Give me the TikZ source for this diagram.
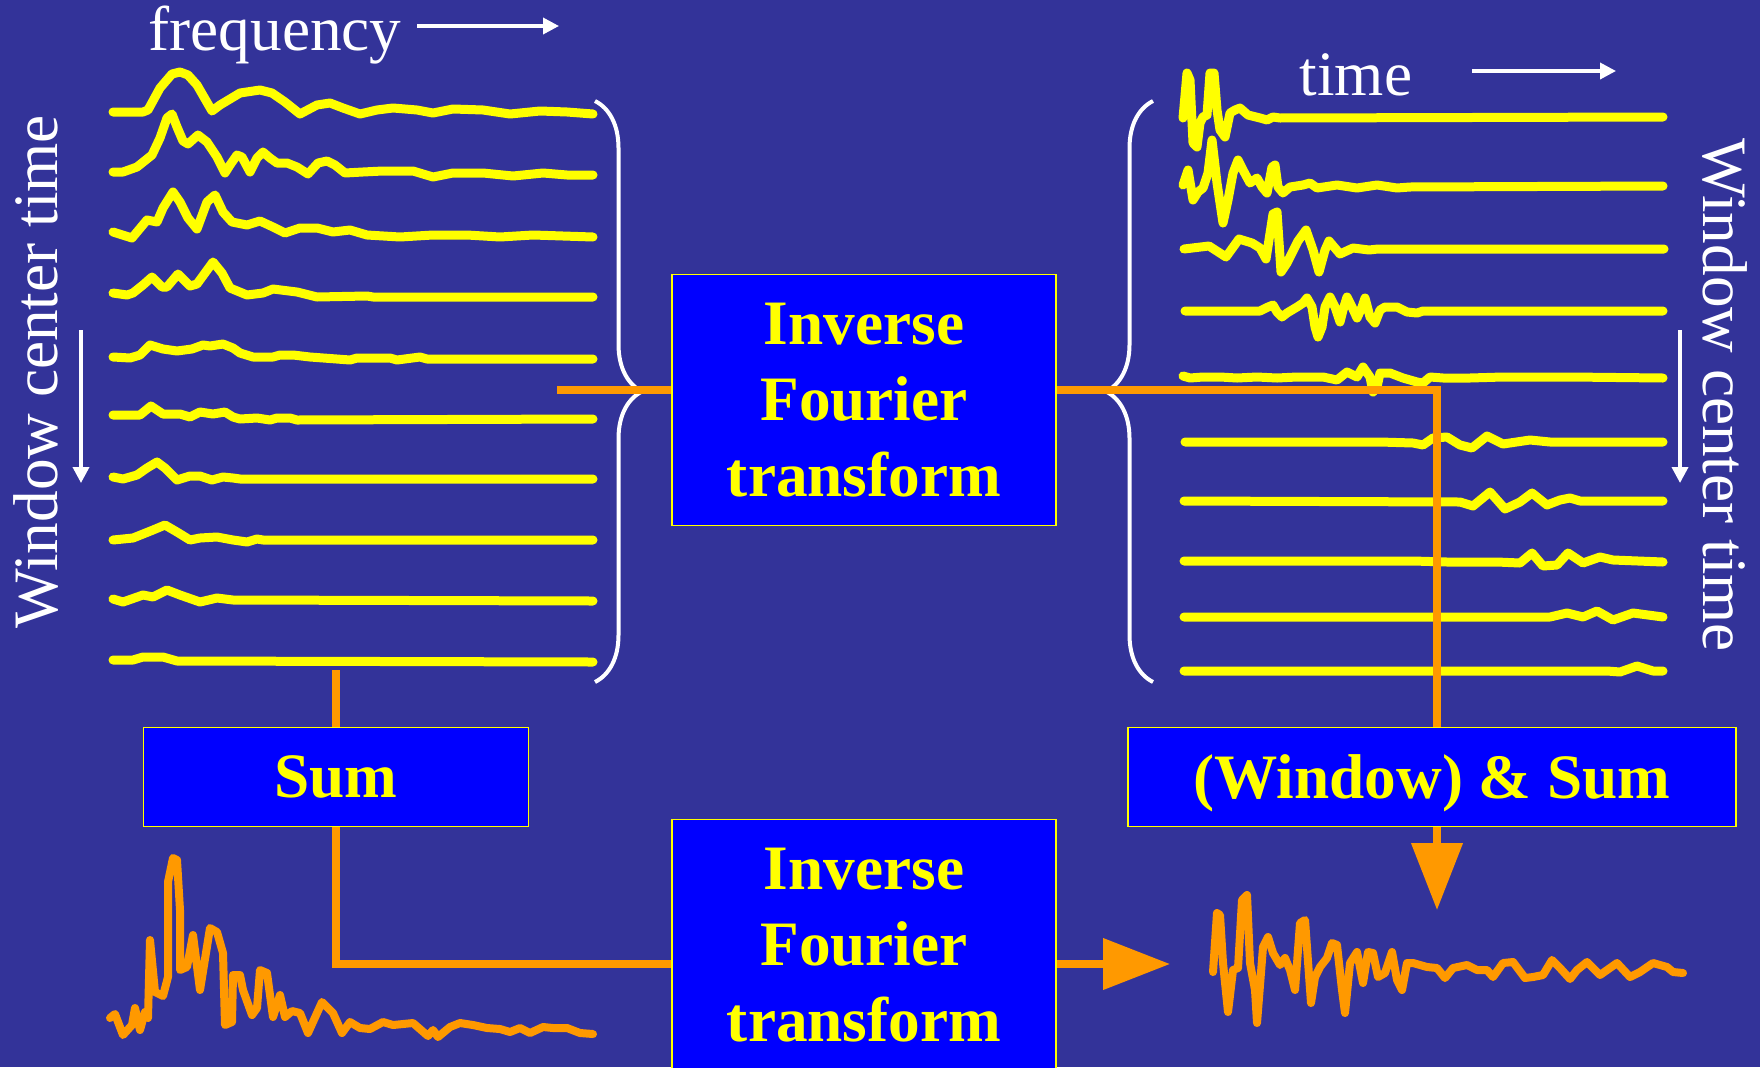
\documentclass[tikz,border=0pt]{standalone}
\usepackage{fontspec}
\setmainfont{Liberation Serif}
\usetikzlibrary{arrows.meta}
\usetikzlibrary{decorations.pathreplacing}

\definecolor{slide}{RGB}{51,51,153}
\definecolor{boxblue}{RGB}{0,0,255}
\definecolor{sigyellow}{RGB}{255,255,0}
\definecolor{sigorange}{RGB}{255,153,0}

\tikzset{
  sigline/.style={draw=sigyellow, line width=0.9mm, line join=round, line cap=round},
  sumline/.style={draw=sigorange, line width=0.8mm, line join=round, line cap=round},
  conn/.style={draw=sigorange, line width=0.75mm},
  bigtip/.style={conn, -{Triangle[length=6.7mm,width=5mm]}},
  block/.style={draw=sigyellow, line width=0.15mm, fill=boxblue, text=sigyellow,
    font=\bfseries\fontsize{18}{21.6}\selectfont, align=center, inner sep=0pt},
  axislabel/.style={text=white, font=\fontsize{18}{21.6}\selectfont, inner sep=0pt},
  axisarrow/.style={draw=white, line width=0.36mm, -{Triangle[length=1.6mm,width=1.6mm]}},
  curly/.style={draw=white, line width=0.4mm, decorate, decoration={brace, amplitude=4.7mm}}
}

\begin{document}
\begin{tikzpicture}[x=0.1mm,y=-0.1mm]
  \useasboundingbox (0,0) rectangle (1760,1067);
  \clip (0,0) rectangle (1760,1067);
  \fill[slide] (0,0) rectangle (1760,1067);

  % axis labels and arrows
  \node[axislabel, anchor=base] (freq) at (275,50) {frequency};
  \node[axislabel, anchor=base] (time) at (1356,95) {time};
  \node[axislabel, anchor=base, rotate=90] (wctleft) at (57,372) {Window center time};
  \node[axislabel, anchor=base, rotate=-90] (wctright) at (1703,395) {Window center time};
  \coordinate (fa) at (417,26);  \coordinate (fb) at (559,26);
  \coordinate (ta) at (1472,71); \coordinate (tb) at (1616,71);
  \coordinate (la) at (81,330);  \coordinate (lb) at (81,483);
  \coordinate (ra) at (1680,330); \coordinate (rb) at (1680,483);
  \draw[axisarrow] (fa) -- (fb);
  \draw[axisarrow] (ta) -- (tb);
  \draw[axisarrow] (la) -- (lb);
  \draw[axisarrow] (ra) -- (rb);

  % spectra of the windows
  \draw[sigline] (113,112) -- (143,112) -- (148,110) -- (160,88) -- (172,74) -- (180,72) -- (188,75) -- (197,85) -- (212,111) -- (220,105) -- (240,93) -- (260,90) -- (272,93) -- (285,102) -- (300,114) -- (317,105) -- (330,103) -- (343,108) -- (360,114) -- (377,110) -- (393,108) -- (417,110) -- (433,113) -- (453,109) -- (483,110) -- (510,114) -- (540,111) -- (567,112) -- (593,114);
  \draw[sigline] (113,172) -- (123,172) -- (137,167) -- (152,155) -- (160,138) -- (167,118) -- (172,114) -- (177,127) -- (183,141) -- (188,144) -- (198,135) -- (207,142) -- (217,157) -- (225,173) -- (230,165) -- (237,155) -- (242,157) -- (250,172) -- (257,158) -- (263,152) -- (270,158) -- (277,163) -- (287,163) -- (297,167) -- (308,174) -- (318,163) -- (327,161) -- (335,165) -- (345,173) -- (363,172) -- (383,171) -- (413,171) -- (433,177) -- (453,173) -- (483,173) -- (513,176) -- (543,173) -- (567,175) -- (593,175);
  \draw[sigline] (113,232) -- (132,238) -- (147,220) -- (157,222) -- (163,208) -- (173,192) -- (180,202) -- (188,218) -- (197,229) -- (207,202) -- (215,195) -- (223,212) -- (232,222) -- (247,225) -- (260,221) -- (273,227) -- (285,233) -- (300,228) -- (317,228) -- (333,232) -- (350,230) -- (367,235) -- (400,237) -- (433,235) -- (467,235) -- (500,237) -- (533,235) -- (593,237);
  \draw[sigline] (113,293) -- (127,295) -- (133,293) -- (143,285) -- (152,277) -- (162,287) -- (167,287) -- (178,274) -- (190,286) -- (197,284) -- (213,262) -- (222,273) -- (230,288) -- (247,295) -- (263,293) -- (273,289) -- (297,292) -- (317,297) -- (367,296) -- (373,297) -- (593,297);
  \draw[sigline] (113,357) -- (130,358) -- (140,355) -- (150,345) -- (163,349) -- (177,351) -- (192,349) -- (203,345) -- (210,346) -- (223,344) -- (233,348) -- (240,353) -- (253,357) -- (273,357) -- (280,355) -- (293,355) -- (310,357) -- (350,360) -- (357,358) -- (390,358) -- (397,360) -- (420,357) -- (427,359) -- (593,359);
  \draw[sigline] (113,415) -- (140,415) -- (151,406) -- (163,414) -- (180,414) -- (190,417) -- (200,412) -- (213,414) -- (225,412) -- (233,417) -- (240,419) -- (257,418) -- (270,420) -- (277,418) -- (290,418) -- (297,420) -- (593,419);
  \draw[sigline] (113,477) -- (123,479) -- (137,475) -- (147,468) -- (157,462) -- (165,468) -- (177,480) -- (190,476) -- (200,476) -- (212,480) -- (223,477) -- (233,478) -- (240,479) -- (593,479);
  \draw[sigline] (113,540) -- (133,538) -- (153,530) -- (165,525) -- (177,532) -- (190,540) -- (200,538) -- (217,537) -- (233,540) -- (247,542) -- (257,539) -- (263,540) -- (593,540);
  \draw[sigline] (113,599) -- (123,602) -- (143,595) -- (153,597) -- (167,590) -- (180,595) -- (200,602) -- (217,598) -- (233,600) -- (593,601);
  \draw[sigline] (113,660) -- (133,660) -- (143,657) -- (163,657) -- (177,661) -- (593,662);

  % windowed time signals
  \draw[sigline] (1183,118) -- (1187,73) -- (1190,80) -- (1193,143) -- (1197,147) -- (1200,123) -- (1203,117) -- (1207,115) -- (1210,73) -- (1214,73) -- (1217,110) -- (1220,130) -- (1225,137) -- (1230,113) -- (1235,110) -- (1240,108) -- (1248,115) -- (1260,118) -- (1267,120) -- (1273,117) -- (1280,118) -- (1663,117);
  \draw[sigline] (1183,185) -- (1188,170) -- (1193,200) -- (1198,192) -- (1203,188) -- (1208,173) -- (1212,140) -- (1217,183) -- (1223,223) -- (1228,200) -- (1233,173) -- (1238,160) -- (1243,170) -- (1250,183) -- (1257,178) -- (1262,187) -- (1267,193) -- (1272,167) -- (1275,165) -- (1278,187) -- (1283,193) -- (1290,187) -- (1303,185) -- (1310,183) -- (1317,188) -- (1337,185) -- (1357,188) -- (1377,185) -- (1397,188) -- (1410,187) -- (1663,186);
  \draw[sigline] (1184,249) -- (1209,246) -- (1226,257) -- (1239,239) -- (1252,243) -- (1260,248) -- (1266,259) -- (1273,214) -- (1277,212) -- (1281,272) -- (1287,263) -- (1298,241) -- (1306,230) -- (1313,250) -- (1319,272) -- (1325,250) -- (1329,241) -- (1340,254) -- (1353,248) -- (1369,250) -- (1378,249) -- (1664,249);
  \draw[sigline] (1185,311) -- (1260,311) -- (1268,307) -- (1273,305) -- (1277,312) -- (1282,317) -- (1287,313) -- (1297,307) -- (1303,303) -- (1307,298) -- (1312,307) -- (1315,327) -- (1318,337) -- (1322,327) -- (1325,307) -- (1330,297) -- (1335,307) -- (1340,322) -- (1343,310) -- (1347,297) -- (1352,307) -- (1357,318) -- (1362,307) -- (1365,298) -- (1370,317) -- (1375,323) -- (1380,310) -- (1385,307) -- (1397,307) -- (1407,312) -- (1417,313) -- (1423,311) -- (1663,311);
  \draw[sigline] (1183,376) -- (1190,378) -- (1203,377) -- (1220,377) -- (1237,378) -- (1257,377) -- (1277,378) -- (1297,377) -- (1310,377) -- (1323,377) -- (1337,380) -- (1347,372) -- (1357,377) -- (1363,367) -- (1370,377) -- (1373,392) -- (1377,387) -- (1380,373) -- (1390,373) -- (1403,378) -- (1417,382) -- (1423,383) -- (1430,377) -- (1443,378) -- (1470,378) -- (1503,377) -- (1537,377) -- (1570,377) -- (1663,378);
  \draw[sigline] (1185,442) -- (1363,442) -- (1380,442) -- (1413,443) -- (1423,445) -- (1433,438) -- (1447,437) -- (1460,445) -- (1472,448) -- (1487,436) -- (1503,444) -- (1530,440) -- (1550,442) -- (1663,442);
  \draw[sigline] (1184,501) -- (1460,502) -- (1473,506) -- (1490,492) -- (1505,509) -- (1520,502) -- (1532,493) -- (1547,505) -- (1560,500) -- (1570,498) -- (1580,501) -- (1663,501);
  \draw[sigline] (1184,561) -- (1413,561) -- (1447,562) -- (1497,562) -- (1520,563) -- (1532,553) -- (1543,566) -- (1557,565) -- (1568,553) -- (1583,563) -- (1600,557) -- (1613,560) -- (1663,562);
  \draw[sigline] (1184,617) -- (1550,617) -- (1567,613) -- (1583,617) -- (1597,611) -- (1613,620) -- (1633,613) -- (1663,617);
  \draw[sigline] (1184,671) -- (1607,671) -- (1620,672) -- (1637,666) -- (1653,671) -- (1663,671);

  % braces
  \draw[curly] (595,101) -- (595,682);
  \draw[curly] (1153,682) -- (1153,101);

  % boxes
  \node[block, minimum width=38.4mm, minimum height=25.1mm] (ift1) at (864,400) {Inverse\\Fourier\\transform};
  \node[block, minimum width=38.4mm, minimum height=25.1mm] (ift2) at (864,945) {Inverse\\Fourier\\transform};
  \node[block, minimum width=38.5mm, minimum height=9.9mm] (sum) at (336,777) {Sum};
  \node[block, minimum width=60.8mm, minimum height=9.9mm, text depth=0pt] (winsum) at (1432,777) {(Window) \& Sum};

  % connectors
  \coordinate (lstart) at (557,390);
  \coordinate (tap) at (1437,390);
  \coordinate (lbot) at (336,670);
  \coordinate (outl) at (1170,964);
  \coordinate (outr) at (1437,910);
  \draw[conn] (lstart) -- (lstart -| ift1.west);
  \draw[conn] (ift1.east |- lstart) -- (tap) -- (tap |- winsum.north);
  \draw[conn] (lbot) -- (sum.north);
  \draw[conn] (sum.south) |- (ift2.west |- outl);
  \draw[bigtip] (ift2.east |- outl) -- (outl);
  \draw[bigtip] (outr |- winsum.south) -- (outr);

  % summed spectrum and resulting signal
  \draw[sumline] (110,1018) -- (115,1014) -- (123,1035) -- (132,1025) -- (135,1008) -- (140,1030) -- (145,1012) -- (148,1018) -- (150,940) -- (155,992) -- (163,996) -- (168,977) -- (168,882) -- (173,858) -- (177,860) -- (180,910) -- (180,970) -- (187,967) -- (193,935) -- (200,990) -- (210,928) -- (217,932) -- (223,953) -- (225,1025) -- (232,1022) -- (233,975) -- (240,975) -- (243,990) -- (252,1015) -- (257,1008) -- (260,970) -- (267,973) -- (273,1017) -- (280,995) -- (285,1017) -- (292,1011) -- (300,1013) -- (308,1033) -- (322,1002) -- (333,1013) -- (342,1033) -- (350,1022) -- (360,1028) -- (370,1029) -- (383,1022) -- (393,1025) -- (413,1023) -- (428,1036) -- (433,1030) -- (438,1037) -- (450,1027) -- (460,1023) -- (473,1025) -- (487,1028) -- (500,1029) -- (510,1032) -- (520,1028) -- (530,1033) -- (543,1027) -- (553,1028) -- (567,1028) -- (580,1033) -- (593,1034);
  \draw[sumline] (1213,972) -- (1217,913) -- (1220,915) -- (1223,963) -- (1228,1012) -- (1233,970) -- (1238,968) -- (1242,900) -- (1247,895) -- (1250,963) -- (1255,990) -- (1257,1023) -- (1263,947) -- (1268,937) -- (1273,953) -- (1280,965) -- (1285,958) -- (1290,970) -- (1295,990) -- (1300,923) -- (1305,920) -- (1311,1003) -- (1315,977) -- (1320,967) -- (1327,958) -- (1332,943) -- (1337,945) -- (1342,990) -- (1345,1013) -- (1350,963) -- (1357,952) -- (1363,983) -- (1368,952) -- (1373,953) -- (1378,977) -- (1385,973) -- (1392,952) -- (1397,980) -- (1402,990) -- (1407,963) -- (1413,963) -- (1427,967) -- (1437,968) -- (1445,978) -- (1453,968) -- (1467,965) -- (1477,970) -- (1487,970) -- (1493,977) -- (1503,963) -- (1513,962) -- (1525,978) -- (1533,977) -- (1543,975) -- (1552,960) -- (1560,968) -- (1570,979) -- (1577,970) -- (1587,962) -- (1600,975) -- (1617,963) -- (1630,977) -- (1640,972) -- (1653,963) -- (1667,967) -- (1673,972) -- (1683,973);
\end{tikzpicture}
\end{document}
